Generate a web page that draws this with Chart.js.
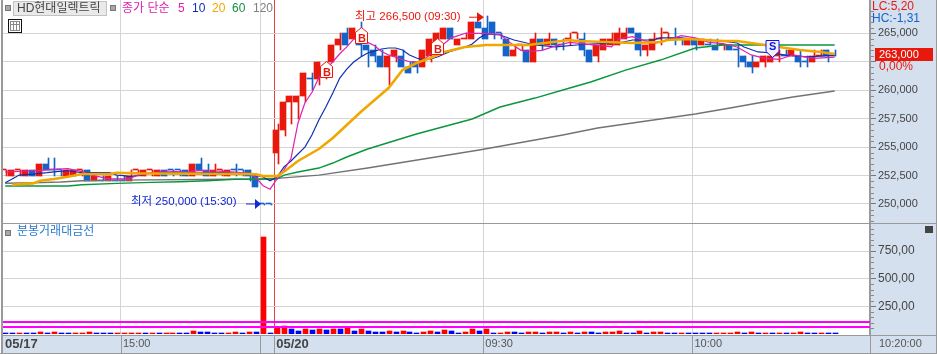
<!DOCTYPE html>
<html>
<head>
<meta charset="utf-8">
<script src="https://cdn.jsdelivr.net/npm/chart.js@4"></script>
<style>
  html, body { margin: 0; padding: 0; background: #fff; overflow: hidden; }
  canvas { position: absolute; left: 0; }
  #priceChart { top: 0; }
  #volumeChart { top: 224px; }
</style>
</head>
<body>
<canvas id="priceChart" width="937" height="224" style="width:937px;height:224px"></canvas>
<canvas id="volumeChart" width="937" height="130" style="width:937px;height:130px"></canvas>
<script>
// candles, one per minute
const opens = [253000,252500,253000,252500,253000,252500,253500,253000,253000,252500,252500,253000,253000,252000,252000,252000,252000,252000,252000,253000,
  252500,253000,252500,253000,253000,253000,253000,252500,253500,253000,252500,253000,252500,253000,253000,253000,252500,250000,250000,254500,
  256500,259000,259000,259500,261000,261000,261500,262500,264000,265000,264500,264500,264000,263500,263000,262000,263000,263000,262000,262500,
  262000,263000,264000,264500,265500,264000,264500,264500,266000,265500,266000,265000,264500,263000,264000,263500,262500,264500,264000,264500,
  264000,264500,265000,264500,263500,263000,263500,264000,264000,264500,265500,265000,263500,263500,264500,265000,264500,264500,264000,264500,
  264000,264000,264000,264000,264000,263500,263000,262500,262000,262500,262500,263000,263000,263000,263000,262500,262500,263000,263500,263000];
const highs = [253000,253000,253000,253000,253000,253500,254000,254000,253000,253000,253000,253000,253000,252500,252500,252500,252500,252500,253000,253000,
  253000,253000,253000,253000,253000,253000,253000,253500,254000,253500,253500,253000,253000,253500,253000,253000,252500,250000,250000,257000,
  259000,259500,259500,261500,261500,262500,262500,264000,265000,265500,265500,266000,264000,264000,263500,263000,263500,263500,262500,262500,
  263500,264500,265000,265500,265500,264500,265000,266000,266000,266500,266000,265000,264500,264000,264000,263500,265000,264500,265000,264500,
  264500,265000,265000,265000,263500,264000,264500,265000,265500,265500,265500,265000,264000,265000,265500,265000,265500,264500,264500,264500,
  264500,264500,264500,264000,264000,264000,263000,263000,262500,263000,263000,263500,263500,263500,263500,263000,263500,263500,263500,263500];
const lows = [252500,252500,252500,252500,252500,252500,253000,252500,252500,252500,252500,252500,252000,252000,252000,252000,252000,252000,252000,252500,
  252500,252500,252500,252500,252500,252500,252500,252500,253000,252500,252500,252500,252500,252500,252500,252000,251500,250000,250000,253500,
  256000,257000,257500,259000,260000,260500,261000,262500,263500,264000,264500,263000,262000,262500,262000,260500,262500,262000,261500,261500,
  262000,262500,263500,264500,264500,264000,264500,264500,265500,264500,264500,264500,263000,263000,263500,262500,262500,263500,264000,263500,
  263500,264000,264500,263000,262500,262500,263500,264000,264000,264500,265000,263000,263000,263500,264000,264500,264000,264000,264000,263500,
  264000,264000,263500,263500,263500,262000,262000,261500,262000,262000,262500,262500,263000,263000,262000,262000,262500,263000,262500,263000];
const closes = [253000,253000,253000,253000,252500,253500,253000,253000,253000,253000,253000,253000,252000,252500,252000,252500,252000,252000,252500,253000,
  253000,253000,253000,252500,253000,253000,252500,253500,253000,252500,253000,253000,253000,253000,253000,252500,251500,250000,250000,256500,
  259000,259500,259500,261500,261000,262500,262000,264000,264500,264000,265500,264000,263500,263000,262000,263000,263500,262000,261500,262000,
  263500,264500,265000,265500,264500,264500,264500,266000,265500,264500,265000,265000,263000,263500,264000,262500,264500,264000,264500,264000,
  264000,264500,265000,263500,262500,264000,264500,264500,265000,265000,265000,263500,264000,264500,264500,265000,264500,264500,264500,264000,
  264500,264000,263500,264000,263500,263500,262500,262000,262500,263000,263000,263500,263000,263500,262500,262500,263000,263000,263000,263000];
const candleDir = 'rrrrbrbbbrrrbrbrbbrrrrrbbbbrbbrrrbbbbbbr' +
  'rrrrbrrrrbrbbbbrrbbbrrrrbrrrbbbbbrrbrbrb' +
  'brrbbrrrrrbbrrrrbbrbrbbrbbbbrrrrbrbbrrbb';

// moving averages
const ma5Idx = [0,3,5,7,9,11,12,13,15,17,18,20,23,26,28,30,33,35,36,37,38,39,40,41,42,43,44,45,46,47,48,49,50,51,52,53,54,55,56,57,58,59,60,61,62,63,64,65,66,68,71,72,73,74,75,77,79,81,84,87,88,90,93,95,97,99,101,103,105,107,109,111,113,116,119];
const ma5 = [252800,252900,252950,253050,253100,252850,252600,252450,252200,252200,252300,252700,252900,252800,252950,252900,252800,252700,252300,251600,251300,252200,253000,254000,257100,258900,259800,261100,261800,262500,263200,263800,264500,264500,264200,263900,263400,263100,262900,262700,262500,262500,262600,263200,263700,264100,264600,264800,265000,265000,264900,264400,263900,263500,263400,263500,263900,264200,264000,263800,264500,264700,264100,264400,264800,264600,264200,264100,263800,263100,262800,262700,263100,262800,262900];
const ma10Idx = [0,1,2,4,6,7,9,11,15,16,17,18,22,27,29,32,35,37,38,39,40,41,42,43,44,45,46,47,48,49,50,51,52,53,54,55,56,57,58,59,60,61,62,63,64,65,66,67,68,69,71,73,76,79,82,84,88,90,93,94,97,100,103,105,106,108,110,112,115,117,119];
const ma10 = [251870,252190,252540,252630,252750,252830,252920,252750,252750,252540,252500,252400,252810,252720,252750,252750,252630,252370,252040,252370,253250,253780,254390,255000,256060,257380,258520,259750,261070,261860,262480,262920,263270,263440,263620,263710,263710,263530,263090,262830,262650,262740,262920,263180,263440,263620,263800,264060,264590,264940,264850,264410,263970,263800,263970,264060,264150,264410,264410,264590,264590,264410,264320,264150,263800,263360,263270,263090,262920,263000,263090];
const ma20Idx = [1,2,4,5,7,9,11,15,16,19,35,36,37,39,40,42,45,47,49,51,53,55,57,59,61,63,66,69,75,81,82,86,90,94,95,98,103,105,108,111,114,117,119];
const ma20 = [251670,251750,251810,252040,252190,252400,252630,252630,252750,252690,252630,252600,252450,252450,252830,253780,254830,255800,256940,258080,259140,260190,261770,262390,262830,263360,263800,263970,263970,264410,264320,264240,264150,264240,264410,264500,264320,264320,264060,263800,263530,263360,263180];
const ma60Idx = [0,9,11,16,21,25,29,33,36,39,40,42,45,47,49,52,59,67,71,76,81,84,89,94,99,103,111,119];
const ma60 = [251580,251580,251690,251810,251900,251960,252040,252170,252170,252190,252540,252810,253160,253600,254130,254830,256150,257470,258520,259310,260190,260720,261770,262650,263710,263970,263970,263970];
const ma120Idx = [0,4,8,11,16,32,36,39,45,52,68,80,85,94,99,104,108,113,119];
const ma120 = [251820,251870,251930,252040,252100,252170,252170,252250,252540,253160,254740,256060,256680,257470,257910,258440,258870,259400,259930];

// turnover bars
const volumes = [9,9,9,9,9,18,9,18,9,9,9,9,18,9,9,9,9,9,9,9,
  9,9,9,9,9,9,9,27,18,18,9,9,9,18,9,18,18,876,9,54,
  72,45,27,45,36,45,36,45,45,54,27,45,27,18,18,27,18,27,18,9,
  18,27,18,36,27,9,18,45,27,45,9,9,18,18,9,18,18,9,18,18,
  9,18,9,18,18,9,18,18,27,9,9,27,9,18,18,9,9,9,9,9,
  9,9,9,9,9,18,9,18,9,9,9,9,9,9,18,9,9,9,9,9];
const volumeDir = 'bbrbbrbrbbrrrbbbrrrrbrbrrbbrbbbbrrbrbrb' +
  'rrbbrbrbrbrbrbbbrbrbbrrbrbbrrbrbrrbbrrbrrbrbrbbrrrbbr' +
  'brrbbrbbbbrrrrbrbrbrbrrbbrbb';
const volumeLines = [108, 63];

const priceTicks = [250000,252500,255000,257500,260000,262500,265000];
const volumeTicks = [250,500,750];
const timeLabels = ['05/17','15:00','05/20','09:30','10:00','10:20:00'];
const timeIdx = [-0.3,16.6,38.6,68.6,98.6,124.07];
const buyIdx = [46,51,62];
const buyPrice = [261700,264700,263700];
const sellIdx = [110];
const sellPrice = [263800];

const RED = '#e8190c', BLUE = '#1464c8', GRID = '#d4d4d4', EDGE = '#9a9a9a', PANEL = '#d5e0ef';
const FONT = "'Liberation Sans','Noto Sans CJK KR',sans-serif";
const X_MIN = -0.316, X_MAX = 124.07;
const gridIdx = [16.6,36.6,38.6,68.6,98.6];

const xOptions = {
  type: 'linear', min: X_MIN, max: X_MAX, offset: false,
  afterBuildTicks: s => { s.ticks = gridIdx.map(v => ({ value: v })); },
  afterFit: s => { s.height = 0; },
  border: { display: false },
  grid: {
    offset: false, drawTicks: false,
    color: c => (c.tick && c.tick.value === 38.6) ? '#e8413a' : GRID
  },
  ticks: { display: false }
};

// y axes are flush with the panel edges, no room kept for half a label
function fitRightAxis(s) {
  s.width = 67;
  s.paddingTop = 0;
  s.paddingBottom = 0;
}

function text(ctx, str, x, y, color, font) {
  ctx.font = font || ('11.5px ' + FONT);
  ctx.fillStyle = color;
  ctx.textAlign = 'left';
  ctx.textBaseline = 'middle';
  ctx.fillText(str, x, y);
}
function smallBox(ctx, x, y) {
  ctx.fillStyle = '#a8a8a8';
  ctx.strokeStyle = '#777';
  ctx.fillRect(x, y, 4, 4);
  ctx.strokeRect(x - 0.5, y - 0.5, 5, 5);
}
function axisMarks(ctx, scale, from, to, step, major) {
  ctx.strokeStyle = '#888';
  ctx.lineWidth = 1;
  ctx.beginPath();
  for (let v = from; v <= to; v += step) {
    if (v % major === 0) continue;
    const y = Math.round(scale.getPixelForValue(v)) + 0.5;
    ctx.moveTo(871, y);
    ctx.lineTo(874, y);
  }
  ctx.stroke();
}

// keep thin wicks and bodies on whole pixels so they stay solid
const snapPlugin = {
  id: 'snapBars',
  afterDatasetsUpdate(chart) {
    chart.data.datasets.forEach((d, i) => {
      const meta = chart.getDatasetMeta(i);
      if (meta.type !== 'bar') return;
      meta.data.forEach(el => {
        el.x = Math.round(el.x) + 0.5;
        const top = Math.round(el.y), bottom = Math.round(el.base);
        el.y = top;
        el.base = bottom === top ? top + 1 : bottom;
      });
    });
  }
};

const backgroundPlugin = {
  id: 'panelBackground',
  beforeDraw(chart) {
    const { ctx, width, height } = chart;
    ctx.save();
    ctx.fillStyle = PANEL;
    ctx.fillRect(870, 0, width - 870, height);
    ctx.restore();
  }
};

const pricePlugin = {
  id: 'priceOverlay',
  afterDraw(chart) {
    const { ctx, scales: { x, y } } = chart;
    ctx.save();
    axisMarks(ctx, y, 248500, 267500, 500, 2500);
    // left frame and panel divider
    ctx.fillStyle = EDGE;
    ctx.fillRect(1, 0, 2, 224);
    ctx.fillRect(3, 223, 934, 1);
    ctx.fillRect(936, 0, 1, 224);
    // header
    smallBox(ctx, 6, 6);
    ctx.fillStyle = '#e9e9e9';
    ctx.strokeStyle = '#c2c2c2';
    ctx.fillRect(13.5, 1.5, 93, 14);
    ctx.strokeRect(13.5, 1.5, 93, 14);
    text(ctx, 'HD현대일렉트릭', 17, 9, '#444', '12px ' + FONT);
    smallBox(ctx, 111, 6);
    const maLabels = [['종가 단순', 122, '#e020b0'], ['5', 178, '#e020b0'], ['10', 192, '#1030b0'], ['20', 212, '#f0a800'], ['60', 232, '#109040'], ['120', 253, '#808080']];
    maLabels.forEach(m => text(ctx, m[0], m[1], 9, m[2], '12px ' + FONT));
    // table icon
    ctx.strokeStyle = '#111';
    ctx.strokeRect(8.5, 19.5, 13, 13);
    ctx.strokeStyle = '#888';
    ctx.strokeRect(10.5, 21.5, 9, 9);
    ctx.beginPath();
    ctx.moveTo(13.5, 21); ctx.lineTo(13.5, 31);
    ctx.moveTo(16.5, 21); ctx.lineTo(16.5, 31);
    ctx.moveTo(10, 24.5); ctx.lineTo(20, 24.5);
    ctx.stroke();
    // high and low notes
    const hy = y.getPixelForValue(266500);
    text(ctx, '최고 266,500 (09:30)', 355, hy + 1, RED);
    ctx.strokeStyle = RED;
    ctx.fillStyle = RED;
    ctx.beginPath(); ctx.moveTo(469, hy + 1); ctx.lineTo(480, hy + 1); ctx.stroke();
    ctx.beginPath(); ctx.moveTo(477, hy - 4); ctx.lineTo(484, hy + 1); ctx.lineTo(477, hy + 6); ctx.fill();
    const ly = y.getPixelForValue(250000);
    text(ctx, '최저 250,000 (15:30)', 131, ly - 2, '#1428d8');
    ctx.strokeStyle = '#1428d8';
    ctx.fillStyle = '#1428d8';
    ctx.beginPath(); ctx.moveTo(246, ly); ctx.lineTo(257, ly); ctx.stroke();
    ctx.beginPath(); ctx.moveTo(255, ly - 5); ctx.lineTo(261, ly); ctx.lineTo(255, ly + 5); ctx.fill();
    // buy and sell flags
    buyIdx.forEach((v, i) => {
      const px = Math.round(x.getPixelForValue(v)) + 0.5, py = Math.round(y.getPixelForValue(buyPrice[i])) + 0.5;
      ctx.beginPath();
      ctx.moveTo(px, py - 10); ctx.lineTo(px + 6, py - 5); ctx.lineTo(px + 6, py + 6);
      ctx.lineTo(px - 6, py + 6); ctx.lineTo(px - 6, py - 5); ctx.closePath();
      ctx.fillStyle = '#fff'; ctx.fill();
      ctx.strokeStyle = RED; ctx.stroke();
      text(ctx, 'B', px - 3.5, py + 1, RED, 'bold 11px ' + FONT);
    });
    sellIdx.forEach((v, i) => {
      const px = Math.round(x.getPixelForValue(v)) + 0.5, py = Math.round(y.getPixelForValue(sellPrice[i])) + 0.5;
      ctx.beginPath();
      ctx.moveTo(px - 6.5, py - 7); ctx.lineTo(px + 6.5, py - 7); ctx.lineTo(px + 6.5, py + 4);
      ctx.lineTo(px, py + 10); ctx.lineTo(px - 6.5, py + 4); ctx.closePath();
      ctx.fillStyle = '#eef2ff'; ctx.fill();
      ctx.strokeStyle = '#1414e0'; ctx.stroke();
      text(ctx, 'S', px - 3.5, py - 1, '#1414e0', 'bold 11px ' + FONT);
    });
    // right side readouts
    text(ctx, 'LC:5,20', 872, 7, RED, '12px ' + FONT);
    text(ctx, 'HC:-1,31', 872, 19, BLUE, '12px ' + FONT);
    ctx.fillStyle = RED;
    ctx.fillRect(875, 48, 58, 13);
    text(ctx, '263,000', 879, 55, '#fff', '11px ' + FONT);
    text(ctx, '0,00%', 879, 67, RED, '12px ' + FONT);
    ctx.restore();
  }
};

const volumePlugin = {
  id: 'volumeOverlay',
  afterDraw(chart) {
    const { ctx, scales: { x, y } } = chart;
    ctx.save();
    axisMarks(ctx, y, 50, 950, 50, 250);
    // bottom time strip
    ctx.fillStyle = PANEL;
    ctx.fillRect(3, 111, 934, 18);
    ctx.fillStyle = EDGE;
    ctx.fillRect(3, 111, 934, 1);
    ctx.fillRect(0, 129, 937, 1);
    ctx.fillRect(1, 0, 2, 130);
    ctx.fillRect(936, 0, 1, 130);
    ctx.fillRect(870, 111, 1, 18);
    gridIdx.forEach(v => {
      ctx.fillRect(Math.round(x.getPixelForValue(v)), 111, 1, 18);
    });
    timeLabels.forEach((t, i) => {
      const bold = t.indexOf('/') > 0;
      const px = i === 5 ? 879 : x.getPixelForValue(timeIdx[i]) + 2;
      text(ctx, t, px, 120, bold ? '#444' : '#555', (bold ? 'bold 13px ' : '11px ') + FONT);
    });
    // title and close box
    smallBox(ctx, 6, 7);
    text(ctx, '분봉거래대금선', 17, 8, '#2a7ad0', '12px ' + FONT);
    ctx.fillStyle = '#444';
    ctx.fillRect(925, 2, 8, 7);
    ctx.restore();
  }
};

const candleColors = candleDir.split('').map(d => d === 'r' ? RED : BLUE);
const lineSet = (idx, vals, color, width, order) => ({
  type: 'line', data: idx.map((v, i) => ({ x: v, y: vals[i] })),
  borderColor: color, borderWidth: width, pointRadius: 0, tension: 0, order: order
});

new Chart(document.getElementById('priceChart').getContext('2d'), {
  type: 'bar',
  data: {
    datasets: [
      lineSet(ma20Idx, ma20, '#f0a800', 2.6, 1),
      lineSet(ma5Idx, ma5, '#e020b0', 1.2, 2),
      lineSet(ma10Idx, ma10, '#1030b0', 1.2, 3),
      lineSet(ma60Idx, ma60, '#0a963c', 1.4, 4),
      lineSet(ma120Idx, ma120, '#737373', 1.4, 5),
      {
        data: opens.map((o, i) => ({ x: i, y: [Math.min(o, closes[i]), Math.max(o, closes[i])] })),
        backgroundColor: candleColors, barThickness: 5, minBarLength: 1, order: 6
      },
      {
        data: opens.map((o, i) => ({ x: i, y: [lows[i], highs[i]] })),
        backgroundColor: candleColors, barThickness: 1, order: 7
      }
    ]
  },
  options: {
    responsive: false, animation: false, events: [],
    layout: { padding: { left: 3, bottom: 1, top: 0, right: 0 } },
    plugins: { legend: { display: false }, tooltip: { enabled: false } },
    scales: {
      x: xOptions,
      y: {
        position: 'right', min: 248330, max: 267926,
        afterBuildTicks: s => { s.ticks = priceTicks.map(v => ({ value: v })); },
        afterFit: fitRightAxis,
        border: { color: EDGE, width: 2 },
        grid: { color: GRID, tickColor: '#777', tickLength: 6 },
        ticks: {
          autoSkip: false, padding: 2, color: '#444', font: { family: FONT, size: 11 },
          callback: v => v === 262500 ? '' : v.toLocaleString('en-US')
        }
      }
    }
  },
  plugins: [snapPlugin, backgroundPlugin, pricePlugin]
});

new Chart(document.getElementById('volumeChart').getContext('2d'), {
  type: 'bar',
  data: {
    datasets: [
      {
        data: volumes.map((v, i) => ({ x: i, y: v })),
        backgroundColor: volumeDir.split('').map(d => d === 'r' ? '#ff0000' : '#0000ff'),
        barThickness: 5, order: 2
      },
      {
        type: 'line', data: [{ x: X_MIN, y: volumeLines[0] }, { x: X_MAX, y: volumeLines[0] }],
        borderColor: '#ff00ff', borderWidth: 2, pointRadius: 0, order: 1
      },
      {
        type: 'line', data: [{ x: X_MIN, y: volumeLines[1] }, { x: X_MAX, y: volumeLines[1] }],
        borderColor: '#ff00ff', borderWidth: 2, pointRadius: 0, order: 1
      }
    ]
  },
  options: {
    responsive: false, animation: false, events: [],
    layout: { padding: { left: 3, bottom: 20, top: 0, right: 0 } },
    plugins: { legend: { display: false }, tooltip: { enabled: false } },
    scales: {
      x: xOptions,
      y: {
        position: 'right', min: 0, max: 994,
        afterBuildTicks: s => { s.ticks = volumeTicks.map(v => ({ value: v })); },
        afterFit: fitRightAxis,
        border: { color: EDGE, width: 2 },
        grid: { color: GRID, tickColor: '#777', tickLength: 6 },
        ticks: {
          autoSkip: false, padding: 2, color: '#444', font: { family: FONT, size: 12 },
          callback: v => v + ',00'
        }
      }
    }
  },
  plugins: [snapPlugin, backgroundPlugin, volumePlugin]
});
</script>
</body>
</html>
